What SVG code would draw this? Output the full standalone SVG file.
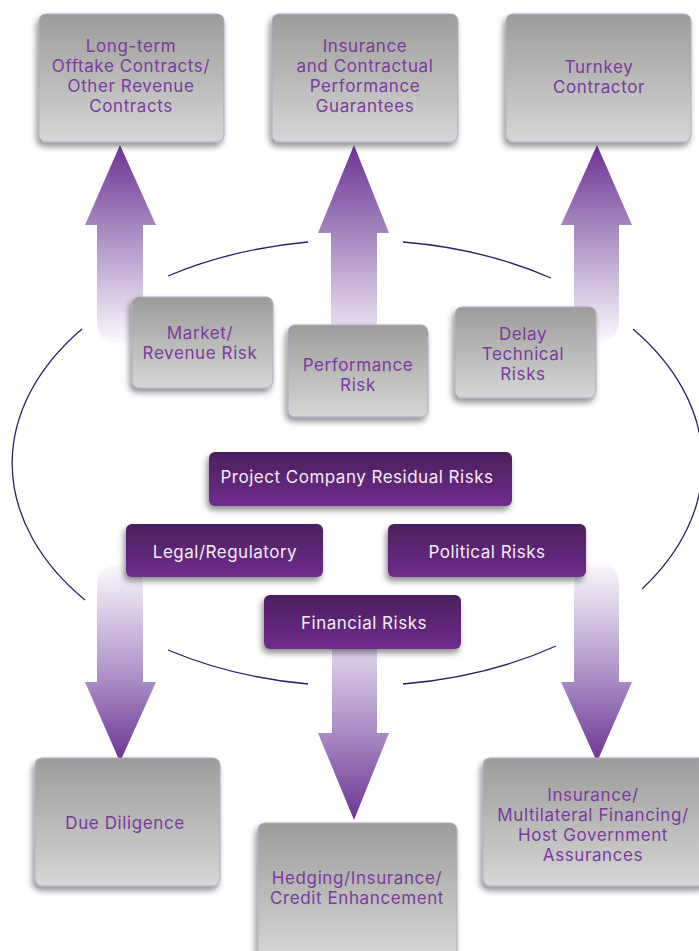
<svg xmlns="http://www.w3.org/2000/svg" width="699" height="951" viewBox="0 0 699 951">
<defs>
  <linearGradient id="gGray" x1="0" y1="0" x2="0" y2="1">
    <stop offset="0" stop-color="#9c9c9a"/>
    <stop offset="1" stop-color="#d6d6d6"/>
  </linearGradient>
  <linearGradient id="gPurple" x1="0" y1="0" x2="0" y2="1">
    <stop offset="0" stop-color="#4a1f5d"/>
    <stop offset="1" stop-color="#6f2d8d"/>
  </linearGradient>
  <linearGradient id="gUp1" x1="0" y1="0" x2="0" y2="1">
    <stop offset="0" stop-color="#6c3492"/>
    <stop offset="0.41" stop-color="#a586bf"/>
    <stop offset="1" stop-color="#fbf9fd"/>
  </linearGradient>
  <linearGradient id="gUp2" x1="0" y1="0" x2="0" y2="1">
    <stop offset="0" stop-color="#6c3492"/>
    <stop offset="0.45" stop-color="#a586bf"/>
    <stop offset="1" stop-color="#f1ebf6"/>
  </linearGradient>
  <linearGradient id="gDown1" x1="0" y1="0" x2="0" y2="1">
    <stop offset="0" stop-color="#fbf9fd"/>
    <stop offset="0.59" stop-color="#a98bc4"/>
    <stop offset="1" stop-color="#6c3492"/>
  </linearGradient>
  <linearGradient id="gDown2" x1="0" y1="0" x2="0" y2="1">
    <stop offset="0" stop-color="#e2d8ec"/>
    <stop offset="0.5" stop-color="#a98bc4"/>
    <stop offset="1" stop-color="#6c3492"/>
  </linearGradient>
  <filter id="shadow" x="-20%" y="-20%" width="140%" height="150%">
    <feDropShadow dx="-2" dy="4" stdDeviation="3" flood-color="#000" flood-opacity="0.45"/>
  </filter>
</defs>
<style>
  .gbox { fill: url(#gGray); stroke: #b3a5c4; stroke-width: 1; filter: url(#shadow); }
  .pbox { fill: url(#gPurple); filter: url(#shadow); }
  .gt { font-family: Inter, "Liberation Sans", sans-serif; font-size: 17px; letter-spacing: 0.6px; fill: #7b3a9e; text-anchor: middle; }
  .pt { font-family: Inter, "Liberation Sans", sans-serif; font-size: 17px; letter-spacing: 0.5px; fill: #f3ecf6; text-anchor: middle; }
  .arc { fill: none; stroke: #2b1f66; stroke-width: 1.3; }
</style>

<g id="connectors">
  <path class="arc" d="M168,276 A343,222 0 0,1 308,242"/>
  <path class="arc" d="M403,242 A343,222 0 0,1 551,278"/>
  <path class="arc" d="M82,329 A343,222 0 0,0 85,600"/>
  <path class="arc" d="M633,329 A343,222 0 0,1 642,589"/>
  <path class="arc" d="M168,650 A343,222 0 0,0 308,684"/>
  <path class="arc" d="M403,684 A343,222 0 0,0 556,646"/>

  <path fill="url(#gUp1)" d="M120,145 L156,225 L143,225 L143,321 Q143,343 121,343 L119,343 Q97,343 97,321 L97,225 L85,225 Z"/>
  <path fill="url(#gUp2)" d="M354,145 L389,233 L377,233 L377,322 Q377,342 357,342 L351,342 Q331,342 331,322 L331,233 L318,233 Z"/>
  <path fill="url(#gUp1)" d="M597,145 L632,225 L619,225 L619,320 Q619,342 597,342 L596,342 Q574,342 574,320 L574,225 L561,225 Z"/>
  <path fill="url(#gDown1)" d="M97,587 Q97,565 119,565 L121,565 Q143,565 143,587 L143,682 L156,682 L120,762 L85,682 L97,682 Z"/>
  <path fill="url(#gDown2)" d="M332,645 L377,645 L377,733 L389,733 L354,820 L318,733 L332,733 Z"/>
  <path fill="url(#gDown1)" d="M574,585 Q574,563 596,563 L597,563 Q619,563 619,585 L619,682 L632,682 L597,762 L561,682 L574,682 Z"/>
</g>

<g id="n-offtake">
  <rect class="gbox" x="39" y="14" width="185" height="128" rx="7"/>
  <text class="gt" x="131" y="52">Long-term</text>
  <text class="gt" x="131" y="72">Offtake Contracts/</text>
  <text class="gt" x="131" y="92">Other Revenue</text>
  <text class="gt" x="131" y="112">Contracts</text>
</g>
<g id="n-insurance-top">
  <rect class="gbox" x="272" y="14" width="186" height="128" rx="7"/>
  <text class="gt" x="365" y="52">Insurance</text>
  <text class="gt" x="365" y="72">and Contractual</text>
  <text class="gt" x="365" y="92">Performance</text>
  <text class="gt" x="365" y="112">Guarantees</text>
</g>
<g id="n-turnkey">
  <rect class="gbox" x="506" y="14" width="185" height="128" rx="7"/>
  <text class="gt" x="599" y="73">Turnkey</text>
  <text class="gt" x="599" y="93">Contractor</text>
</g>

<g id="n-market">
  <rect class="gbox" x="132" y="297" width="141" height="91" rx="7"/>
  <text class="gt" x="200" y="339">Market/</text>
  <text class="gt" x="200" y="359">Revenue Risk</text>
</g>
<g id="n-performance">
  <rect class="gbox" x="288" y="325" width="140" height="92" rx="7"/>
  <text class="gt" x="358" y="371">Performance</text>
  <text class="gt" x="358" y="391">Risk</text>
</g>
<g id="n-delay">
  <rect class="gbox" x="455" y="307" width="141" height="91" rx="7"/>
  <text class="gt" x="523" y="340">Delay</text>
  <text class="gt" x="523" y="360">Technical</text>
  <text class="gt" x="523" y="380">Risks</text>
</g>

<g id="n-residual">
  <rect class="pbox" x="209" y="452" width="303" height="54" rx="6"/>
  <text class="pt" x="357" y="483">Project Company Residual Risks</text>
</g>
<g id="n-legal">
  <rect class="pbox" x="126" y="524" width="197" height="53" rx="6"/>
  <text class="pt" x="225" y="558">Legal/Regulatory</text>
</g>
<g id="n-political">
  <rect class="pbox" x="388" y="524" width="198" height="53" rx="6"/>
  <text class="pt" x="487" y="558">Political Risks</text>
</g>
<g id="n-financial">
  <rect class="pbox" x="264" y="595" width="197" height="54" rx="6"/>
  <text class="pt" x="364" y="629">Financial Risks</text>
</g>

<g id="n-due">
  <rect class="gbox" x="35" y="758" width="185" height="128" rx="7"/>
  <text class="gt" x="125" y="829">Due Diligence</text>
</g>
<g id="n-hedging">
  <rect class="gbox" x="258" y="823" width="199" height="134" rx="7"/>
  <text class="gt" x="357" y="884">Hedging/Insurance/</text>
  <text class="gt" x="357" y="904">Credit Enhancement</text>
</g>
<g id="n-insurance-bottom">
  <rect class="gbox" x="483" y="758" width="225" height="128" rx="7"/>
  <text class="gt" x="593" y="801">Insurance/</text>
  <text class="gt" x="593" y="821">Multilateral Financing/</text>
  <text class="gt" x="593" y="841">Host Government</text>
  <text class="gt" x="593" y="861">Assurances</text>
</g>
</svg>
